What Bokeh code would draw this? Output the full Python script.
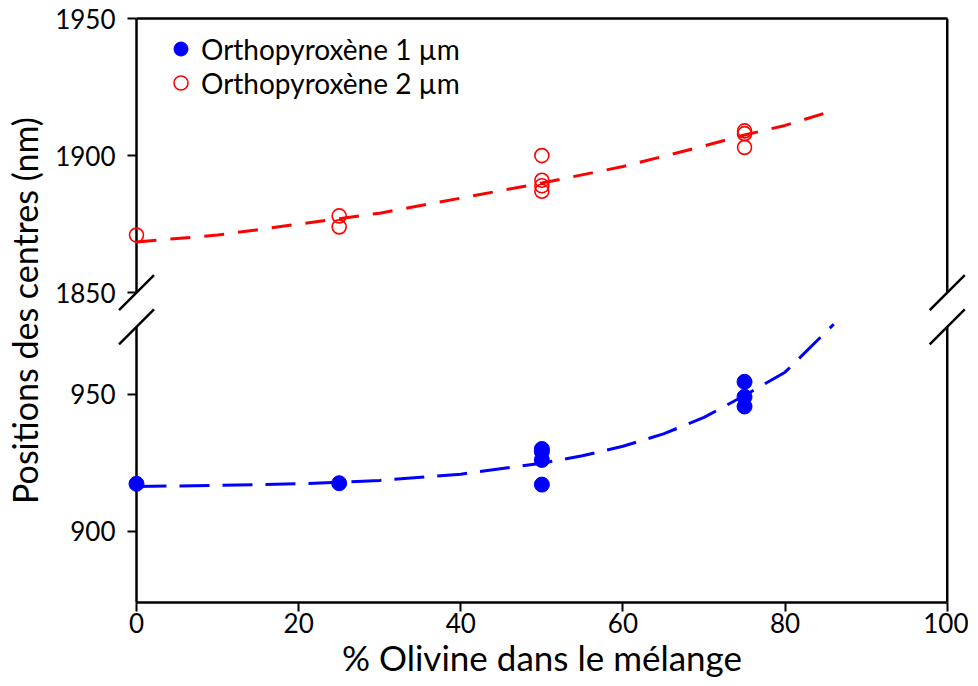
from bokeh.plotting import figure
from bokeh.models import Range1d, FixedTicker, Legend, LegendItem, LinearAxis
from bokeh.embed import file_html
from bokeh.resources import INLINE

# ---------------- data ----------------
X_TICKS = [0, 20, 40, 60, 80, 100]
Y_TICKS_LOW = [900, 950]            # lower segment (1 µm band)
Y_TICKS_HIGH = [1850, 1900, 1950]   # upper segment (2 µm band)

# measured band centres
X_OPX1 = [0, 25, 50, 50, 50, 50, 75, 75, 75]
Y_OPX1 = [917.3, 917.5, 930, 929, 926, 917, 954.5, 949, 945.5]
X_OPX2 = [0, 25, 25, 50, 50, 50, 50, 75, 75, 75]
Y_OPX2 = [1871, 1878, 1874, 1900, 1891, 1889, 1887, 1909, 1908, 1903]

# trend curves
FIT_X_OPX1 = [0, 10, 20, 30, 40, 50, 55, 60, 65, 70, 75, 80, 86]
FIT_Y_OPX1 = [916.3, 916.7, 917.3, 918.5, 920.8, 924.8, 927.5, 931, 935.5, 941.5, 949.5, 958, 975.5]
FIT_X_OPX2 = [0, 10, 20, 30, 40, 50, 60, 70, 75, 80, 86]
FIT_Y_OPX2 = [1868.5, 1871, 1875, 1879, 1884.5, 1890, 1896, 1903.5, 1907.5, 1911, 1916.5]

LABEL_1 = "Orthopyroxène 1 µm"
LABEL_2 = "Orthopyroxène 2 µm"
X_TITLE = "% Olivine dans le mélange"
Y_TITLE = "Positions des centres (nm)"

# ---------------- broken axis settings ----------------
OFFSET = 863          # upper segment is drawn shifted down by this amount
X_MIN, X_MAX = 0, 100
Y_LOW_MIN = 874       # bottom of lower segment
Y_LOW_TOP = 974.5     # top of lower segment (break)
Y_HIGH_MIN = 1850     # bottom of upper segment (break)
Y_HIGH_MAX = 1950


def up(v):
    return v - OFFSET


FONT = "Lato"
BLUE = "#0000ff"
RED = "#ff0000"
FW = 2.5

p = figure(frame_width=851, frame_height=584, output_backend="svg",
           toolbar_location=None,
           x_range=Range1d(-2.467, 102.5),
           y_range=Range1d(Y_LOW_MIN, up(Y_HIGH_MAX)),
           min_border_left=116, min_border_right=1, min_border_top=18,
           min_border_bottom=0)
p.outline_line_color = None
p.grid.visible = False
p.background_fill_color = "white"

# ---------------- axes ----------------
yax = p.yaxis[0]
ytick_pos = list(Y_TICKS_LOW) + [up(v) for v in Y_TICKS_HIGH]
yax.ticker = FixedTicker(ticks=ytick_pos)
overrides = {v: str(v) for v in Y_TICKS_LOW}
overrides.update({up(v): str(v) for v in Y_TICKS_HIGH})
yax.major_label_overrides = overrides
yax.axis_line_color = None
yax.major_tick_in = 20
yax.major_tick_out = -11
yax.major_label_standoff = 1
yax.axis_label = Y_TITLE
yax.axis_label_standoff = 7
yax.axis_label_text_font_size = "34px"

xax = p.xaxis[0]
xax.ticker = FixedTicker(ticks=X_TICKS)
xax.bounds = (X_MIN, X_MAX)
xax.axis_line_width = FW
xax.axis_line_color = "black"
xax.major_tick_in = 0
xax.major_tick_out = 9
xax.major_label_standoff = 1
xax.axis_label = X_TITLE
xax.axis_label_standoff = 0
xax.axis_label_text_font_size = "35px"

for ax in (xax, yax):
    ax.minor_tick_out = 0
    ax.minor_tick_in = 0
    ax.major_tick_line_width = 2
    ax.major_tick_line_color = "black"
    ax.major_label_text_font = FONT
    ax.major_label_text_font_size = "26px"
    ax.major_label_text_color = "black"
    ax.axis_label_text_font = FONT
    ax.axis_label_text_font_style = "normal"
    ax.axis_label_text_color = "black"

# top frame line
top = LinearAxis(ticker=FixedTicker(ticks=[]), bounds=(X_MIN, X_MAX),
                 axis_line_width=FW, axis_line_color="black",
                 major_tick_out=0, major_tick_in=0, minor_tick_out=0,
                 minor_tick_in=0, major_label_text_font_size="0px",
                 major_label_standoff=0)
p.add_layout(top, "above")

# ---------------- side frame lines with breaks ----------------
for xx in (X_MIN, X_MAX):
    p.segment(x0=[xx, xx], y0=[Y_LOW_MIN, up(Y_HIGH_MIN)],
              x1=[xx, xx], y1=[Y_LOW_TOP, up(Y_HIGH_MAX)],
              line_color="black", line_width=FW)
DX, DY = 2.16, 6.38
bx0, by0, bx1, by1 = [], [], [], []
for xx in (X_MIN, X_MAX):
    for yy in (Y_LOW_TOP, up(Y_HIGH_MIN)):
        bx0.append(xx - DX); by0.append(yy - DY)
        bx1.append(xx + DX); by1.append(yy + DY)
p.segment(x0=bx0, y0=by0, x1=bx1, y1=by1, line_color="black", line_width=FW)

# ---------------- trend curves ----------------
p.line(FIT_X_OPX1, FIT_Y_OPX1, line_color=BLUE, line_width=3, line_dash="30 13")
p.line(FIT_X_OPX2, [up(v) for v in FIT_Y_OPX2], line_color=RED, line_width=3,
       line_dash="20 14")

# ---------------- points ----------------
r1 = p.scatter(X_OPX1, Y_OPX1, marker="circle", size=15, fill_color=BLUE,
               line_color=BLUE, line_width=1)
r2 = p.scatter(X_OPX2, [up(v) for v in Y_OPX2], marker="circle", size=14,
               fill_color=None, line_color=RED, line_width=1.6)

# ---------------- legend (one entry per row) ----------------
for label, rend, loc in ((LABEL_1, r1, (47, 536)), (LABEL_2, r2, (47, 502))):
    lg = Legend(items=[LegendItem(label=label, renderers=[rend])], location=loc)
    lg.border_line_color = None
    lg.background_fill_alpha = 0
    lg.padding = 0
    lg.margin = 0
    lg.spacing = 0
    lg.glyph_width = 35
    lg.glyph_height = 35
    lg.label_standoff = 3
    lg.label_text_font = FONT
    lg.label_text_font_size = "28px"
    lg.label_text_color = "black"
    p.add_layout(lg)

open("out.html", "w").write(file_html(p, INLINE))
